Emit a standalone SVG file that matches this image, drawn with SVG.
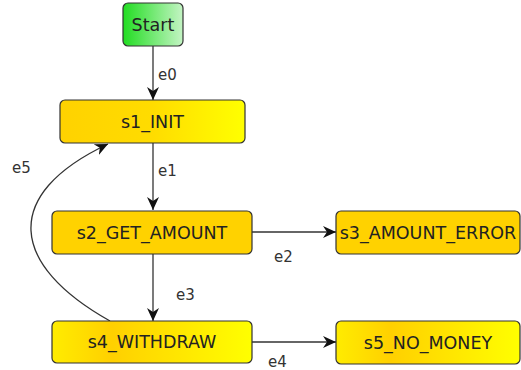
<svg xmlns="http://www.w3.org/2000/svg" width="521" height="370" viewBox="0 0 521 370">
<defs>
<linearGradient id="gStart" x1="0" y1="0" x2="1" y2="0">
<stop offset="0" stop-color="#22dd22"/><stop offset="1" stop-color="#c4f4c4"/>
</linearGradient>
<linearGradient id="gInit" x1="0" y1="0" x2="1" y2="0">
<stop offset="0" stop-color="#ffd200"/><stop offset="0.5" stop-color="#ffdc00"/><stop offset="1" stop-color="#ffff00"/>
</linearGradient>
<linearGradient id="gWave" x1="0" y1="0" x2="1" y2="0">
<stop offset="0" stop-color="#ffec00"/><stop offset="0.3" stop-color="#ffd000"/><stop offset="0.6" stop-color="#ffe400"/><stop offset="1" stop-color="#ffff00"/>
</linearGradient>
<marker id="arr" markerUnits="userSpaceOnUse" markerWidth="14" markerHeight="14" viewBox="0 0 14 14" refX="13" refY="7" orient="auto">
<path d="M0,1 L13,7 L0,13 L4,7 z" fill="#111"/>
</marker>
</defs>
<style>
.box{stroke:#333;stroke-width:1.2}
.lbl{font-family:"DejaVu Sans",sans-serif;font-size:17.5px;fill:#222;text-anchor:middle;dominant-baseline:central}
.el{font-family:"DejaVu Sans",sans-serif;font-size:15px;fill:#333}
.edge{fill:none;stroke:#333;stroke-width:1.3;marker-end:url(#arr)}
</style>
<g id="connectors">
<path class="edge" d="M153,46 L153,100"/>
<text class="el" x="158" y="80">e0</text>
<path class="edge" d="M153,143 L153,210"/>
<text class="el" x="158" y="176">e1</text>
<path class="edge" d="M252,232 L336,232"/>
<text class="el" x="274" y="262">e2</text>
<path class="edge" d="M153,254 L153,321"/>
<text class="el" x="176" y="300">e3</text>
<path class="edge" d="M252,342 L336,342"/>
<text class="el" x="268" y="367">e4</text>
<path class="edge" d="M110,321 C10,265 0,195 108,144"/>
<text class="el" x="12" y="173">e5</text>
</g>
<g id="Start">
<rect class="box" x="123" y="3" width="60" height="43" rx="5" fill="url(#gStart)"/>
<text class="lbl" x="153" y="25">Start</text>
</g>
<g id="s1_INIT">
<rect class="box" x="60" y="100" width="185" height="43" rx="5" fill="url(#gInit)"/>
<text class="lbl" x="152.5" y="122">s1_INIT</text>
</g>
<g id="s2_GET_AMOUNT">
<rect class="box" x="52" y="211" width="200" height="43" rx="5" fill="#ffd200"/>
<text class="lbl" x="152" y="233">s2_GET_AMOUNT</text>
</g>
<g id="s3_AMOUNT_ERROR">
<rect class="box" x="336" y="211" width="184" height="43" rx="5" fill="#ffd200"/>
<text class="lbl" x="428" y="233">s3_AMOUNT_ERROR</text>
</g>
<g id="s4_WITHDRAW">
<rect class="box" x="52" y="321" width="200" height="42" rx="5" fill="url(#gWave)"/>
<text class="lbl" x="152" y="342">s4_WITHDRAW</text>
</g>
<g id="s5_NO_MONEY">
<rect class="box" x="336" y="321" width="184" height="43" rx="5" fill="url(#gWave)"/>
<text class="lbl" x="428" y="343">s5_NO_MONEY</text>
</g>
</svg>
